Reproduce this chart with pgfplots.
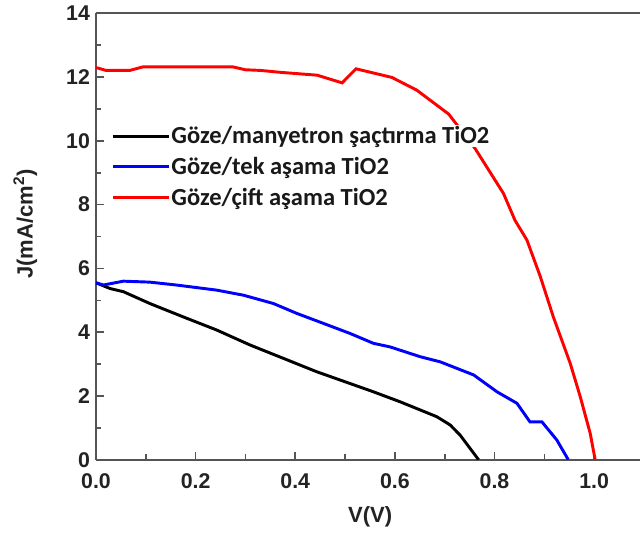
\documentclass[border=0pt]{standalone}
\usepackage{fontspec}
\setmainfont{Liberation Sans}
\newfontfamily\legfont{Carlito}
\usepackage{pgfplots}
\pgfplotsset{compat=1.18}
\definecolor{axgray}{RGB}{85,85,85}
\definecolor{txt}{RGB}{35,35,35}
\begin{document}
\begin{tikzpicture}
\path[use as bounding box] (-72pt,-60.2pt) rectangle (408pt,344.8pt);
\begin{axis}[
  scale only axis,
  width=408pt, height=334.8pt,
  xmin=0, xmax=1.092, ymin=0, ymax=14,
  axis y line*=left,
  axis line style={axgray, line width=1.4pt},
  xtick={0,0.2,0.4,0.6,0.8,1.0},
  ytick={0,2,4,6,8,10,12,14},
  minor x tick num=1, minor y tick num=1,
  xtick pos=bottom, ytick pos=left,
  tick align=inside,
  major tick length=6pt, minor tick length=4pt,
  every tick/.style={axgray, line width=1.2pt},
  /pgf/number format/assume math mode=true,
  ticklabel style={font=\fontsize{16}{18}\selectfont\bfseries, text=txt},
  xticklabel style={/pgf/number format/fixed, /pgf/number format/fixed zerofill, /pgf/number format/precision=1, yshift=-7pt},
  yticklabel style={xshift=-1pt},
  xlabel={V(V)}, ylabel={J(mA/cm\textsuperscript{2})},
  label style={font=\fontsize{16.5}{19}\selectfont\bfseries, text=txt},
  xlabel style={at={(axis description cs:0.504,-0.128)}, anchor=center},
  ylabel style={at={(axis description cs:-0.13,0.528)}, anchor=center},
  legend cell align=left,
  legend style={at={(axis cs:0.03,10.5)}, anchor=north west, draw=none, fill=none,
    font=\legfont\bfseries\fontsize{18.4}{20}\selectfont, text=black!90,
    row sep=6.7pt, inner sep=0pt,
    nodes={fill=white, inner sep=1pt}},
  legend image code/.code={\draw[#1] (0pt,0pt) -- (42pt,0pt);},
  every axis plot/.append style={line width=2.2pt},
]
\addplot[black] coordinates {
(0,5.55) (0.028,5.37) (0.055,5.27) (0.108,4.90) (0.175,4.48) (0.242,4.07) (0.309,3.60) (0.376,3.18) (0.443,2.76) (0.51,2.39) (0.557,2.13) (0.61,1.82) (0.651,1.56) (0.684,1.35) (0.711,1.09) (0.731,0.77) (0.768,0.0)
};
\addlegendentry{Göze/manyetron şaçtırma TiO2}
\addplot[blue] coordinates {
(0,5.55) (0.015,5.48) (0.055,5.60) (0.108,5.57) (0.161,5.48) (0.242,5.32) (0.296,5.16) (0.356,4.90) (0.403,4.59) (0.483,4.12) (0.51,3.96) (0.557,3.65) (0.59,3.54) (0.651,3.23) (0.691,3.07) (0.758,2.66) (0.805,2.13) (0.845,1.77) (0.871,1.19) (0.895,1.19) (0.925,0.62) (0.948,0.0)
};
\addlegendentry{Göze/tek aşama TiO2}
\addplot[red] coordinates {
(0,12.30) (0.02,12.21) (0.068,12.21) (0.094,12.32) (0.275,12.32) (0.30,12.23) (0.33,12.21) (0.37,12.15) (0.444,12.06) (0.494,11.82) (0.522,12.26) (0.594,11.99) (0.644,11.59) (0.708,10.84) (0.761,9.76) (0.818,8.35) (0.841,7.51) (0.865,6.89) (0.892,5.74) (0.918,4.48) (0.952,3.02) (0.972,1.98) (0.992,0.83) (1.002,0.0)
};
\addlegendentry{Göze/çift aşama TiO2}
\end{axis}
\end{tikzpicture}
\end{document}
